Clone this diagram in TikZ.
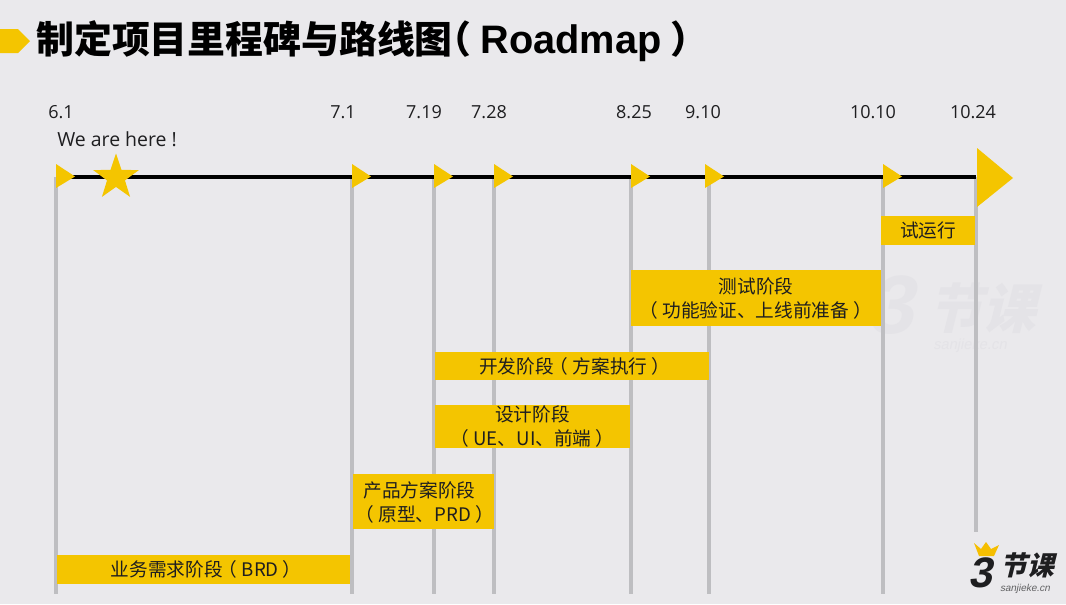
\documentclass[tikz,border=0pt]{standalone}
\usepackage{fontspec}
\setmainfont{Open Sans}
\newfontfamily\cjk{Noto Sans CJK SC}
\newfontfamily\cjkslant[FakeSlant=0.25,BoldFeatures={FakeSlant=0.25}]{Noto Sans CJK SC}
\newfontfamily\latinslant[FakeSlant=0.2,BoldFeatures={FakeSlant=0.2}]{Liberation Sans}
\newfontfamily\titlelatin{Liberation Sans}
\usetikzlibrary{shapes.geometric,calc}
\definecolor{bgc}{RGB}{234,233,236}
\definecolor{gold}{RGB}{244,197,0}
\definecolor{pole}{RGB}{190,190,193}
\definecolor{ink}{RGB}{30,30,32}
\definecolor{wm}{RGB}{228,227,231}
\newcommand{\lpa}{\kern-.45em（}
\newcommand{\lpb}{\kern-.2em（}
\newcommand{\rpa}{）\kern-.45em}
\tikzset{
  x=0.75pt,y=-0.75pt,
  barbox/.style={draw=none,inner sep=0pt,align=center,font=\cjk\fontsize{14}{17.8}\selectfont,text=ink},
  datelabel/.style={inner sep=0pt,font=\fontsize{13.5}{16}\selectfont,text=ink},
  polemark/.style={draw=pole,line width=2.6pt},
  axisline/.style={draw=black,line width=3pt},
  tick/.style={fill=gold,draw=none},
}
\newcommand{\barnode}[7][]{%
  \coordinate (#2a) at (#3,#4);
  \coordinate (#2b) at (#5,#6);
  \fill[gold] (#2a) rectangle (#2b);
  \node[barbox,#1] (#2) at ($(#2a)!.5!(#2b)$) {#7};}
\begin{document}
\begin{tikzpicture}
\useasboundingbox[fill=bgc] (0,0) rectangle (1066,604);
% watermark
\node[inner sep=0pt,font=\latinslant\bfseries\fontsize{62}{62}\selectfont,text=wm] (wmthree) at (890,305) {3};
\node[inner sep=0pt,font=\cjkslant\bfseries\fontsize{40}{42}\selectfont,text=wm] (wmark) at (982,308) {节课};
\node[inner sep=0pt,font=\latinslant\fontsize{11}{12}\selectfont,text=wm] (wmsite) at (970,346) {sanjieke.cn};
% title
\fill[gold] (0,29) -- (18,29) -- (30,41) -- (18,53) -- (0,53) -- cycle;
\node[anchor=west,inner sep=0pt,font=\cjk\bfseries\fontsize{28.4}{32}\selectfont,text=black] (title) at (36,41) {制定项目里程碑与路线图\kern-.5em（ {\titlelatin\fontsize{29.8}{32}\selectfont Roadmap} ）};
% dates
\foreach \n/\t/\x in {d1/6.1/61,d2/7.1/343,d3/7.19/424,d4/7.28/489,d5/8.25/634,d6/9.10/703,d7/10.10/873,d8/10.24/973}
  \node[datelabel] (\n) at (\x,112) {\t};
\node[datelabel,anchor=west,font=\fontsize{14.6}{16}\selectfont] (here) at (57,139.5) {We are here !};
% coordinates of axis and poles
\foreach \n/\x in {p1/56,p2/352,p3/434,p4/494,p5/631,p6/709,p7/883}{
  \coordinate (\n t) at (\x,177);
  \coordinate (\n b) at (\x,594);
  \draw[polemark] (\n t) -- (\n b);
}
\coordinate (p8t) at (976,177);
\coordinate (p8b) at (976,532);
\draw[polemark] (p8t) -- (p8b);
\draw[axisline] (p1t) -- (p8t);
% ticks
\foreach \x in {56,352,434,494,631,705,883}
  \fill[tick] (\x,164) -- (\x+19,176.5) -- (\x,188) -- cycle;
\fill[tick] (977,148) -- (1013,178) -- (977,207) -- cycle;
% star
\node[star,star points=5,star point ratio=2.55,fill=gold,minimum size=36pt,inner sep=0pt,draw=none] (here star) at (116,177.5) {};
% bars
\barnode{b1}{881}{216}{975}{245}{试运行}
\barnode[yshift=-0.6pt]{b2}{631}{270}{881}{326}{测试阶段\\\lpa{} 功能验证、上线前准备 \rpa}
\barnode{b3}{435}{352}{709}{380}{\kern4pt 开发阶段\lpb{} 方案执行 ）}
\barnode{b4}{435}{405}{630}{448}{设计阶段\\\lpa{} UE、UI、前端 \rpa}
\barnode[yshift=-0.75pt]{b5}{353}{474}{494}{529}{产品方案阶段\kern6pt\\\kern-.3em（ 原型、PRD \rpa}
\barnode{b6}{57}{555}{350}{584}{\kern4pt 业务需求阶段\lpb{} BRD ）}
% logo
\fill[gold!90!orange] (974,543) -- (981,549) -- (986,542) -- (991,549) -- (999,545) -- (994,556) -- (979,556) -- cycle;
\node[inner sep=0pt,font=\latinslant\bfseries\fontsize{32}{33}\selectfont,text=ink] (logo3) at (980,573) {3};
\node[inner sep=0pt,font=\cjkslant\bfseries\fontsize{20}{21}\selectfont,text=ink] (logot) at (1027,565) {节课};
\node[inner sep=0pt,font=\latinslant\fontsize{7.5}{8}\selectfont,text=ink!70] (logos) at (1025,589) {sanjieke.cn};
\end{tikzpicture}
\end{document}
